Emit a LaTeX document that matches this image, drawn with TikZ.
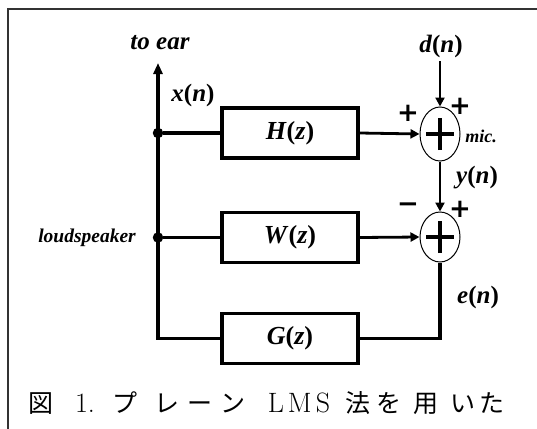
\documentclass[tikz,border=0pt]{standalone}
\usepackage{fontspec}
\newfontfamily\cjk{Noto Sans CJK JP}
\newfontfamily\signfont{DejaVu Sans}
\newfontfamily\lblfont{Liberation Serif}
\newcommand\fnlbl[2]{\textit{#1}(\textit{#2})}
\usetikzlibrary{arrows.meta,shapes.geometric}
\begin{document}
\begin{tikzpicture}[x=1pt,y=-1pt,
  blockbox/.style={draw, line width=3.6pt, minimum width=136pt, minimum height=50pt, inner sep=0pt, font=\fontsize{26}{28}\lblfont\bfseries},
  sumnode/.style={draw, ellipse, line width=1pt, minimum width=40pt, inner sep=0pt},
  wire/.style={line width=3.6pt, line join=miter},
  arrowwire/.style={line width=2.8pt, -{Triangle[length=9pt,width=9pt]}},
  mainarrow/.style={line width=3.2pt, line join=miter, -{Triangle[length=11pt,width=9pt]}},
  lbl/.style={font=\fontsize{25}{28}\lblfont\bfseries, inner sep=0pt},
  signlbl/.style={font=\fontsize{26}{28}\signfont\bfseries, inner sep=0pt},
  dotnode/.style={circle, fill, inner sep=0pt, minimum size=10.5pt},
  capj/.style={anchor=base, inner sep=0pt, font=\fontsize{25}{28}\cjk},
  capl/.style={anchor=base, inner sep=0pt, font=\fontsize{28}{30}\selectfont},
  framepen/.style={draw=black!80, line width=1.5pt}
]
\useasboundingbox (0,0) rectangle (537,428);
% frame
\coordinate (fbl) at (8,430);
\coordinate (ftl) at (8,9);
\coordinate (ftr) at (540,9);
\draw[framepen] (fbl) -- (ftl) -- (ftr);

% blocks
\node[blockbox] (H) at (290,133) {\fnlbl{H}{z}};
\node[blockbox] (W) at (290,237.5) {\fnlbl{W}{z}};
\node[blockbox] (G) at (290,338.5) {\fnlbl{G}{z}};

% summing junctions
\node[sumnode, minimum height=54pt] (s1) at (440,134) {};
\node[sumnode, minimum height=50pt] (s2) at (440,237) {};
\foreach \s in {s1,s2}{
  \draw[line width=3.6pt] ([xshift=-14pt]\s.center) -- ([xshift=14pt]\s.center);
  \draw[line width=3.6pt] ([yshift=-16pt]\s.center) -- ([yshift=16pt]\s.center);
}

% junction dots
\node[dotnode] (j1) at (158,133) {};
\node[dotnode] (j2) at (158,237.5) {};
\coordinate (top) at (158,63);

% main wires
\draw[mainarrow] (G.west) -| (top);
\draw[wire] (j1) -- (H.west);
\draw[wire] (j2) -- (W.west);
\coordinate (gcorner) at (440,338.5);
\draw[wire] (G.east) -- (gcorner) -- (s2.south);

% arrows to summers
\draw[arrowwire] (H.east) -- (s1.west);
\draw[arrowwire] (W.east) -- (s2.west);
\node[lbl] (dn) at (441,46) {\fnlbl{d}{n}};
\coordinate (dstart) at (440,61);
\draw[arrowwire] (dstart) -- (s1.north);
\draw[arrowwire] (s1.south) -- (s2.north);

% labels
\node[font=\fontsize{25}{28}\lblfont\bfseries\itshape, inner sep=0pt] (ear) at (160,43) {to ear};
\node[lbl] (xn) at (193,95) {\fnlbl{x}{n}};
\node[lbl] (yn) at (477,178) {\fnlbl{y}{n}};
\node[lbl] (en) at (478,297) {\fnlbl{e}{n}};
\node[font=\fontsize{18}{20}\lblfont\bfseries\itshape, inner sep=0pt] (mic) at (481,136) {mic.};
\node[font=\fontsize{19.5}{22}\lblfont\bfseries\itshape, inner sep=0pt] (ls) at (87,238) {loudspeaker};

% signs
\node[signlbl] (p1) at (408,113) {+};
\node[signlbl] (p2) at (460,106) {+};
\node[signlbl] (m3) at (408,208) {−};
\node[signlbl] (p4) at (460,209) {+};

% caption
\node[capj] (c1) at (41,412) {図};
\node[capl] (c2) at (85,412) {1.};
\node[capj] (c3) at (125,412) {プ};
\node[capj] (c4) at (167,412) {レ};
\node[capj] (c5) at (200,412) {ー};
\node[capj] (c6) at (233,412) {ン};
\node[capl] (c7) at (299,412) {L\hspace{4pt}M\hspace{4pt}S};
\node[capj] (c8) at (358,412) {法};
\node[capj] (c9) at (389,412) {を};
\node[capj] (c10) at (426,412) {用};
\node[capj] (c11) at (463,412) {い};
\node[capj] (c12) at (492,412) {た};
\end{tikzpicture}
\end{document}
